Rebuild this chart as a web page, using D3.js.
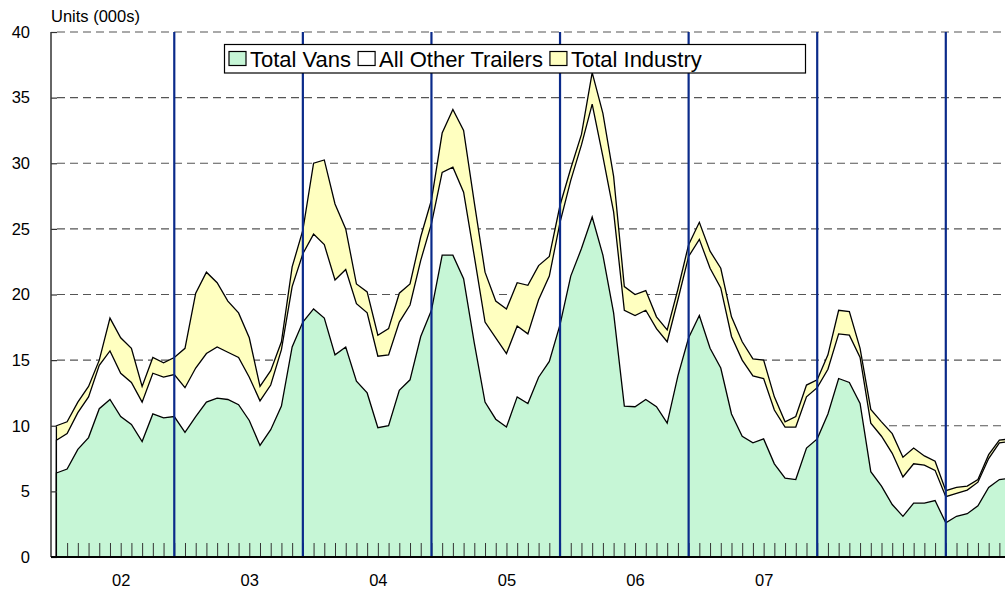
<!DOCTYPE html>
<html><head><meta charset="utf-8">
<script src="https://cdn.jsdelivr.net/npm/d3@7"></script>
<style>body{margin:0;background:#fff} svg{display:block} text{font-family:Arial,"Liberation Sans",sans-serif;fill:#000}</style>
</head><body><svg id="c" width="1005" height="592"></svg>
<script>
// Monthly values (000s units)
const totalVans = [6.4,6.7,8.2,9.1,11.3,12.0,10.7,10.1,8.8,10.9,10.6,10.7,
  9.5,10.7,11.8,12.1,12.0,11.6,10.4,8.5,9.7,11.5,16.0,17.9,
  18.9,18.2,15.4,16.0,13.4,12.5,9.85,10.0,12.7,13.5,16.8,18.8,
  23.0,23.0,21.2,16.3,11.8,10.5,9.9,12.2,11.7,13.7,14.9,17.7,
  21.4,23.5,25.9,23.0,18.6,11.5,11.45,12.0,11.45,10.2,13.8,16.7,
  18.4,15.9,14.4,10.9,9.2,8.7,9.0,7.1,6.0,5.9,8.3,9.0,
  10.9,13.6,13.3,11.7,6.5,5.4,4.0,3.1,4.1,4.1,4.3,2.6,
  3.1,3.3,3.9,5.3,5.9,6.0];
const allOtherTrailers = [8.9,9.4,11.0,12.2,14.6,15.7,14.0,13.3,11.8,14.0,13.7,13.9,
  12.9,14.4,15.5,16.0,15.6,15.2,13.7,11.9,13.1,15.8,20.6,23.1,
  24.6,23.8,21.1,21.9,19.3,18.6,15.3,15.4,17.9,19.2,22.6,25.4,
  29.3,29.7,27.8,22.9,17.9,16.7,15.5,17.6,17.0,19.6,21.4,25.5,
  28.7,31.4,34.5,30.5,26.3,18.8,18.4,18.8,17.4,16.4,19.6,22.9,
  24.2,22.0,20.5,16.8,15.0,13.8,13.6,11.2,9.9,9.9,12.2,12.9,
  14.3,17.0,16.9,15.2,10.2,9.2,7.9,6.1,7.1,7.0,6.6,4.6,
  4.85,5.1,5.7,7.5,8.7,8.8];
const totalIndustry = [10.0,10.3,11.8,13.0,15.0,18.2,16.7,15.9,13.0,15.2,14.8,15.2,
  15.9,20.1,21.7,20.9,19.5,18.6,16.7,13.0,14.2,16.4,22.1,24.9,
  30.0,30.25,26.9,25.0,20.8,20.2,16.9,17.4,20.1,20.8,24.4,27.2,
  32.3,34.1,32.5,27.0,21.7,19.5,18.9,20.9,20.7,22.2,22.9,26.8,
  29.6,32.2,36.9,33.8,29.0,20.6,20.0,20.3,18.3,17.3,20.4,23.8,
  25.5,23.3,22.0,18.3,16.4,15.1,15.0,12.2,10.3,10.7,13.1,13.5,
  15.4,18.8,18.7,15.9,11.25,10.3,9.4,7.6,8.3,7.7,7.3,5.05,
  5.3,5.4,5.9,7.8,8.9,9.0];
const yTicks = [0,5,10,15,20,25,30,35,40];
const yearLabels = ["02","03","04","05","06","07"];
const yearLabelIndex = [6,18,30,42,54,66];
const yearBreaks = [11,23,35,47,59,71,83];
const seriesNames = ["Total Vans","All Other Trailers","Total Industry"];
const seriesColors = ["#c6f6d6","#ffffff","#ffffc0"];

const svg = d3.select("#c");
const n = totalVans.length;
const x = d3.scaleLinear().domain([0, 83]).range([56.4, 945.8]);
const y = d3.scaleLinear().domain([0, 40]).range([557, 32]);
const xLeft = 51, xRight = 1005;
const fs = 16.5;

// gridlines
svg.append("g").selectAll("line").data(yTicks.filter(t => t > 0)).join("line")
  .attr("x1", 57).attr("x2", xRight)
  .attr("y1", d => y(d)).attr("y2", d => y(d))
  .attr("stroke", "#555").attr("stroke-width", 1.2).attr("stroke-dasharray", "8,5");

// areas: industry, other trailers, vans
const area = d3.area().x((d, i) => x(i)).y0(y(0)).y1(d => y(d));
const layers = [
  {vals: totalIndustry, color: seriesColors[2]},
  {vals: allOtherTrailers, color: seriesColors[1]},
  {vals: totalVans, color: seriesColors[0]}
];
layers.forEach(l => {
  svg.append("path").datum(l.vals).attr("d", area)
    .attr("fill", l.color).attr("stroke", "#000").attr("stroke-width", 1.3)
    .attr("stroke-linejoin", "miter");
});

// month ticks
svg.append("g").attr("transform", `translate(0,${y(0)})`)
  .call(d3.axisBottom(x).tickValues(d3.range(1, n)).tickSize(-14).tickFormat(""))
  .call(g => g.select(".domain").remove())
  .call(g => g.selectAll("line").attr("stroke", "#333").attr("stroke-width", 1));

// year separators
svg.append("g").selectAll("line").data(yearBreaks).join("line")
  .attr("x1", d => x(d)).attr("x2", d => x(d))
  .attr("y1", y(40)).attr("y2", y(0))
  .attr("stroke", "#0a2a8a").attr("stroke-width", 2.2);

// year labels
svg.append("g").attr("transform", `translate(0,${y(0)})`)
  .call(d3.axisBottom(x).tickValues(yearLabelIndex).tickSize(0).tickPadding(17)
    .tickFormat((d, i) => yearLabels[i]))
  .call(g => g.select(".domain").remove())
  .call(g => g.selectAll("text").attr("font-size", fs).attr("font-family", null));

// y axis
svg.append("g").attr("transform", `translate(${xLeft},0)`)
  .call(d3.axisLeft(y).tickValues(yTicks).tickSize(-6).tickPadding(21))
  .call(g => g.select(".domain").remove())
  .call(g => g.selectAll("line").attr("stroke", "#333").attr("stroke-width", 1.2))
  .call(g => g.selectAll("text").attr("font-size", fs).attr("font-family", null));
svg.append("line").attr("x1", xLeft).attr("x2", xLeft).attr("y1", y(40)).attr("y2", y(0))
  .attr("stroke", "#333").attr("stroke-width", 1.5);
svg.append("line").attr("x1", xLeft).attr("x2", xRight).attr("y1", y(0)).attr("y2", y(0))
  .attr("stroke", "#000").attr("stroke-width", 2);

svg.append("text").attr("x", 51).attr("y", 22).attr("font-size", fs).text("Units (000s)");

// legend
const lg = svg.append("g");
lg.append("rect").attr("x", 224.5).attr("y", 44.5).attr("width", 581).attr("height", 28.5)
  .attr("fill", "#fff").attr("stroke", "#000").attr("stroke-width", 1.2);
let cx = 229;
seriesNames.forEach((name, i) => {
  lg.append("rect").attr("x", cx).attr("y", 51.5).attr("width", 17).attr("height", 14)
    .attr("fill", seriesColors[i]).attr("stroke", "#000").attr("stroke-width", 1.2);
  const t = lg.append("text").attr("x", cx + 21).attr("y", 66.5).attr("font-size", 22).text(name);
  cx = cx + 21 + t.node().getComputedTextLength() + 7;
});
</script></body></html>
